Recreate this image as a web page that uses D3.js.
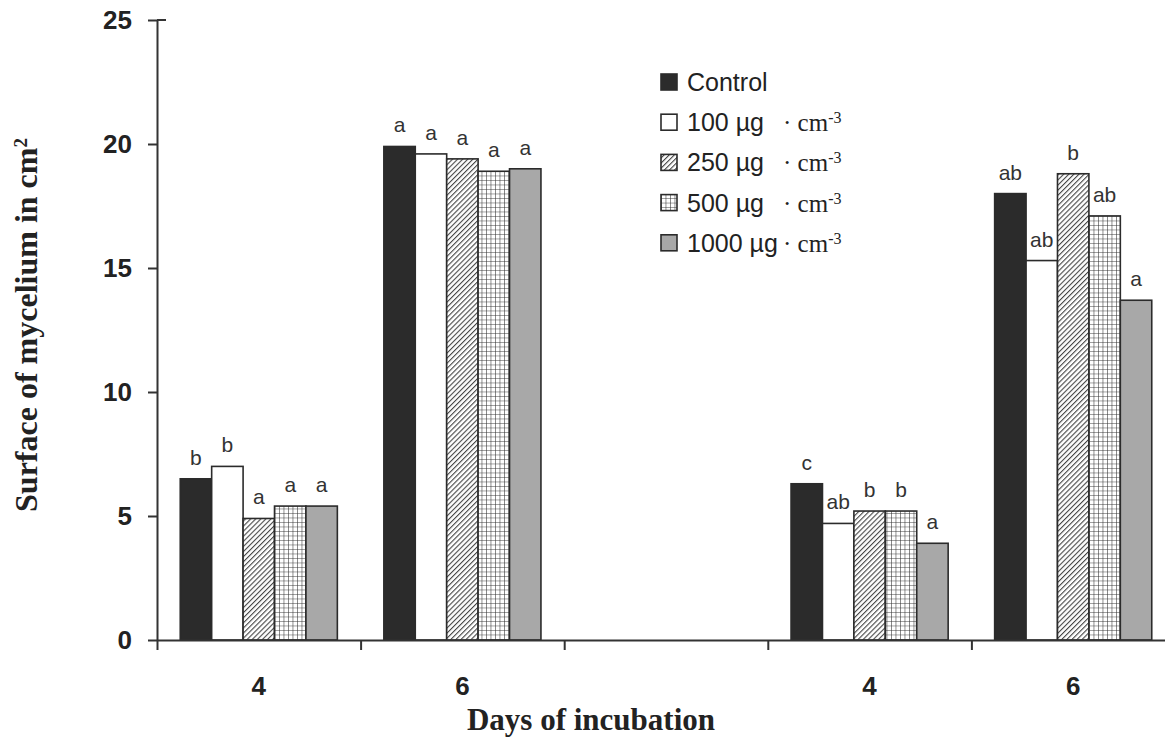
<!DOCTYPE html>
<html>
<head>
<meta charset="utf-8">
<script src="https://cdn.jsdelivr.net/npm/d3@7"></script>
<style>
  body { margin: 0; background: #fff; }
  svg { display: block; }
</style>
</head>
<body>
<div id="chart"></div>
<script>
// groups along the x axis (the third one is an empty gap)
const groups = ["exp1-4", "exp1-6", "gap", "exp2-4", "exp2-6"];
const dayLabels = ["4", "6", "", "4", "6"];

const seriesNames = ["Control", "100 µg", "250 µg", "500 µg", "1000 µg"];

const controlValues = [6.5, 19.9, null, 6.3, 18.0];
const dose100Values = [7.0, 19.6, null, 4.7, 15.3];
const dose250Values = [4.9, 19.4, null, 5.2, 18.8];
const dose500Values = [5.4, 18.9, null, 5.2, 17.1];
const dose1000Values = [5.4, 19.0, null, 3.9, 13.7];

const controlLetters = ["b", "a", "", "c", "ab"];
const dose100Letters = ["b", "a", "", "ab", "ab"];
const dose250Letters = ["a", "a", "", "b", "b"];
const dose500Letters = ["a", "a", "", "b", "ab"];
const dose1000Letters = ["a", "a", "", "a", "a"];

const yTicks = [0, 5, 10, 15, 20, 25];

const allValues = [controlValues, dose100Values, dose250Values, dose500Values, dose1000Values];
const allLetters = [controlLetters, dose100Letters, dose250Letters, dose500Letters, dose1000Letters];

const width = 1165;
const height = 742;

const svg = d3.select("#chart")
  .append("svg")
  .attr("width", width)
  .attr("height", height)
  .style("background", "#fff");

// patterns
const defs = svg.append("defs");

const hatch = defs.append("pattern")
  .attr("id", "hatch")
  .attr("patternUnits", "userSpaceOnUse")
  .attr("width", 3.6)
  .attr("height", 3.6)
  .attr("patternTransform", "rotate(45)");
hatch.append("rect").attr("width", 3.6).attr("height", 3.6).attr("fill", "#fff");
hatch.append("line")
  .attr("x1", 0).attr("y1", 0).attr("x2", 0).attr("y2", 3.6)
  .attr("stroke", "#444").attr("stroke-width", 2.2);

const grid = defs.append("pattern")
  .attr("id", "grid")
  .attr("patternUnits", "userSpaceOnUse")
  .attr("width", 4.5)
  .attr("height", 4.5);
grid.append("rect").attr("width", 4.5).attr("height", 4.5).attr("fill", "#fff");
grid.append("path")
  .attr("d", "M0,0 H4.5 M0,0 V4.5")
  .attr("stroke", "#333").attr("stroke-width", 1.1)
  .attr("fill", "none");

const fills = ["#2b2b2b", "#ffffff", "url(#hatch)", "url(#grid)", "#a8a8a8"];

// scales
const x0 = d3.scaleBand()
  .domain(groups)
  .range([157, 1175])
  .padding(0);

const x1 = d3.scaleBand()
  .domain(seriesNames)
  .range([0, x0.bandwidth()])
  .paddingInner(0)
  .paddingOuter(0.74);

const y = d3.scaleLinear()
  .domain([0, 25])
  .range([640, 20]);

// bars
const barData = [];
groups.forEach((g, gi) => {
  seriesNames.forEach((s, si) => {
    const v = allValues[si][gi];
    if (v != null) {
      barData.push({ group: g, series: s, si, value: v, letter: allLetters[si][gi] });
    }
  });
});

const bars = svg.append("g");

bars.selectAll("rect")
  .data(barData)
  .enter()
  .append("rect")
  .attr("x", d => x0(d.group) + x1(d.series))
  .attr("y", d => y(d.value))
  .attr("width", x1.bandwidth())
  .attr("height", d => y(0) - y(d.value))
  .attr("fill", d => fills[d.si])
  .attr("stroke", "#2b2b2b")
  .attr("stroke-width", 1.6);

bars.selectAll("text")
  .data(barData)
  .enter()
  .append("text")
  .attr("x", d => x0(d.group) + x1(d.series) + x1.bandwidth() / 2)
  .attr("y", d => y(d.value) - 14)
  .attr("text-anchor", "middle")
  .style("font-family", "'Liberation Sans', Arial, sans-serif")
  .style("font-size", "21px")
  .style("fill", "#333")
  .text(d => d.letter);

// y axis
const yAxis = svg.append("g")
  .attr("transform", "translate(157,0)")
  .call(d3.axisLeft(y).tickValues(yTicks).tickSize(9).tickSizeOuter(0).tickPadding(16));

yAxis.select(".domain").attr("stroke", "#333").attr("stroke-width", 2);
yAxis.selectAll(".tick line").attr("stroke", "#333").attr("stroke-width", 2);
yAxis.selectAll(".tick text")
  .style("font-family", "'Liberation Sans', Arial, sans-serif")
  .style("font-size", "26px")
  .style("font-weight", "bold")
  .style("fill", "#222");

// small cap line at the top of the y axis
yAxis.append("line")
  .attr("x1", 0).attr("x2", 9)
  .attr("y1", y(25)).attr("y2", y(25))
  .attr("stroke", "#333").attr("stroke-width", 2);

// x axis: line and boundary ticks
const xEdge = d3.scaleLinear()
  .domain([0, groups.length])
  .range([157, 1175]);

const xAxisLine = svg.append("g")
  .attr("transform", `translate(0,${y(0)})`)
  .call(d3.axisBottom(xEdge).tickValues(d3.range(groups.length + 1)).tickSize(10).tickSizeOuter(0).tickFormat(""));

xAxisLine.select(".domain").attr("stroke", "#333").attr("stroke-width", 2);
xAxisLine.selectAll(".tick line").attr("stroke", "#333").attr("stroke-width", 2);

// x axis: day labels
const xLabels = svg.append("g")
  .attr("transform", `translate(0,${y(0)})`)
  .call(d3.axisBottom(x0).tickSize(0).tickPadding(37).tickFormat((d, i) => dayLabels[i]));

xLabels.select(".domain").remove();
xLabels.selectAll(".tick text")
  .style("font-family", "'Liberation Sans', Arial, sans-serif")
  .style("font-size", "26px")
  .style("font-weight", "bold")
  .style("fill", "#222");

// axis titles
svg.append("text")
  .attr("x", 591)
  .attr("y", 730)
  .attr("text-anchor", "middle")
  .style("font-family", "'Liberation Serif', 'Times New Roman', serif")
  .style("font-size", "31px")
  .style("font-weight", "bold")
  .style("fill", "#222")
  .text("Days of incubation");

const yTitle = svg.append("text")
  .attr("transform", "translate(37,325) rotate(-90)")
  .attr("text-anchor", "middle")
  .style("font-family", "'Liberation Serif', 'Times New Roman', serif")
  .style("font-size", "32px")
  .style("font-weight", "bold")
  .style("fill", "#222");
yTitle.append("tspan").text("Surface of mycelium in cm");
yTitle.append("tspan")
  .attr("dy", "-0.55em")
  .style("font-size", "19px")
  .text("2");

// legend
const legend = svg.append("g")
  .attr("transform", "translate(661,82)");

seriesNames.forEach((name, i) => {
  const lg = legend.append("g")
    .attr("transform", `translate(0, ${i * 40.2})`);

  lg.append("rect")
    .attr("x", 0)
    .attr("y", -8)
    .attr("width", 16)
    .attr("height", 16)
    .attr("fill", fills[i])
    .attr("stroke", "#2b2b2b")
    .attr("stroke-width", 1.6);

  lg.append("text")
    .attr("x", 26)
    .attr("y", 9)
    .style("font-family", "'Liberation Sans', Arial, sans-serif")
    .style("font-size", "25px")
    .style("fill", "#222")
    .text(name);

  if (i > 0) {
    const unit = lg.append("text")
      .attr("x", 122)
      .attr("y", 9)
      .style("font-family", "'Liberation Serif', 'Times New Roman', serif")
      .style("font-size", "25px")
      .style("fill", "#222");
    unit.append("tspan").text("· cm");
    unit.append("tspan")
      .attr("dy", "-0.5em")
      .style("font-size", "16px")
      .text("-3");
  }
});
</script>
</body>
</html>
